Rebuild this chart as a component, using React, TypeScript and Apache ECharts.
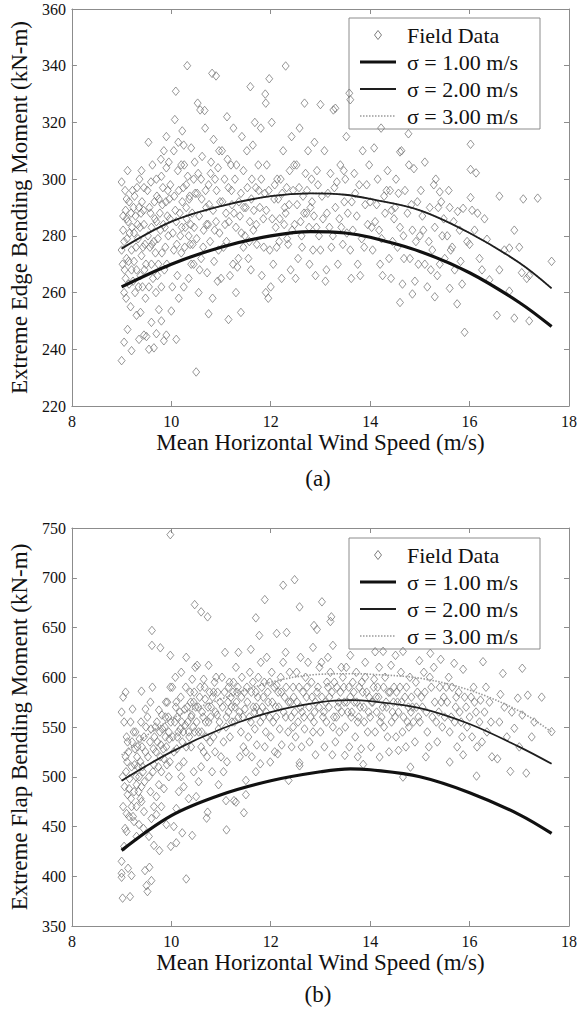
import React, { useEffect, useRef } from "react";
import * as echarts from "echarts";

// ---------- Data ----------
const X_MIN = 8;
const X_MAX = 18;
const X_INTERVAL = 2;
const EDGE_Y = { min: 220, max: 360, interval: 20 };
const FLAP_Y = { min: 350, max: 750, interval: 50 };

const LEGEND_NAMES = ["Field Data", "σ = 1.00 m/s", "σ = 2.00 m/s", "σ = 3.00 m/s"];
const PANEL_LABELS = ["(a)", "(b)"];
const X_TITLE = "Mean Horizontal Wind Speed (m/s)";
const EDGE_Y_TITLE = "Extreme Edge Bending Moment (kN-m)";
const FLAP_Y_TITLE = "Extreme Flap Bending Moment (kN-m)";

// Panel (a) field data: [wind speed, edge moment]
const EDGE_FIELD: number[][] = [
  [9.0,299],[9.05,278],[9.1,286],[9.02,270],[9.08,265],[9.12,303],[9.15,292],[9.2,275],[9.25,281],[9.3,268],[9.35,290],[9.4,273],[9.45,284],[9.0,236],[9.05,242.5],[9.12,247],[9.2,239.5],[9.18,255],[9.3,252],[9.35,243.5],[9.42,262],[9.48,258],[9.05,260],[9.1,272],[9.22,296],[9.28,287],[9.33,279],[9.38,266],[9.45,297],[9.03,282],[9.15,263],[9.25,271],[9.4,303],[9.47,277],[9.1,293],[9.32,284],[9.2,268],[9.08,289],[9.38,253],[9.45,245],[9.0,275],[9.27,260],[9.44,289],[9.16,281],[9.36,300],[9.49,270],
  [9.5,244.5],[9.55,240],[9.6,249.5],[9.65,240.5],[9.7,245.5],[9.75,254],[9.8,250],[9.85,243],[9.9,245],[9.55,262],[9.6,270],[9.65,278],[9.7,285],[9.75,293],[9.8,301],[9.85,310],[9.9,315],[9.95,306],[9.52,296],[9.58,288],[9.62,305],[9.68,274],[9.72,266],[9.78,282],[9.82,291],[9.88,276],[9.92,287],[9.98,298],[9.54,313],[9.6,283],[9.66,292],[9.74,270],[9.8,262],[9.86,268],[9.94,280],[9.96,293],[9.57,276],[9.7,300],[9.84,284],[9.9,304],
  [10.0,253.5],[10.1,243.5],[10.07,321],[10.09,331],[10.32,340],[10.02,262],[10.05,275],[10.1,285],[10.15,296],[10.2,305],[10.25,312],[10.3,290],[10.35,280],[10.4,270],[10.45,300],[10.12,266],[10.18,280],[10.22,292],[10.28,283],[10.33,301],[10.38,277],[10.42,288],[10.48,295],[10.05,310],[10.15,258],[10.25,262],[10.35,265],[10.45,270],[10.22,317],[10.4,311],[10.3,298],[10.08,289],[10.2,274],[10.46,283],
  [10.5,232],[10.53,326.8],[10.58,324.4],[10.67,324.2],[10.82,337.3],[10.9,336.4],[10.75,252.5],[10.55,260],[10.6,272],[10.65,282],[10.7,290],[10.75,298],[10.8,306],[10.85,314],[10.9,285],[10.95,275],[10.52,295],[10.62,308],[10.72,267],[10.78,278],[10.88,300],[10.98,292],[10.56,287],[10.68,318],[10.83,258],[10.93,264],[10.6,300],[10.74,284],[10.86,271],[10.96,310],
  [11.15,250.5],[11.4,253],[11.0,265],[11.05,276],[11.1,288],[11.15,297],[11.2,305],[11.25,318],[11.3,283],[11.35,272],[11.4,295],[11.45,303],[11.02,310],[11.08,284],[11.18,266],[11.22,291],[11.28,300],[11.33,269],[11.38,287],[11.48,280],[11.12,322],[11.42,315],[11.3,260],[11.45,276],
  [11.59,332.6],[11.89,330],[11.9,326.8],[11.97,335.4],[11.5,290],[11.55,272],[11.6,268],[11.65,282],[11.7,297],[11.75,305],[11.8,318],[11.85,286],[11.9,260],[11.95,258],[11.52,310],[11.62,300],[11.72,277],[11.78,290],[11.88,295],[11.98,275],[11.68,320],[11.82,266],[11.58,285],[11.92,305],
  [12.3,339.9],[12.0,262],[12.05,270],[12.1,283],[12.15,293],[12.2,300],[12.25,310],[12.3,288],[12.35,277],[12.4,268],[12.45,296],[12.02,320],[12.12,276],[12.22,265],[12.28,290],[12.38,303],[12.48,284],[12.08,298],[12.18,286],[12.42,315],[12.33,279],
  [12.68,326.8],[13.0,326.3],[12.5,265],[12.55,272],[12.6,285],[12.65,294],[12.7,302],[12.75,310],[12.8,290],[12.85,275],[12.9,266],[12.95,298],[12.52,305],[12.62,280],[12.72,288],[12.82,300],[12.92,283],[12.58,318],[12.88,313],[12.78,270],
  [13.26,324.4],[13.3,325],[13.0,275],[13.05,286],[13.1,264],[13.15,295],[13.2,302],[13.25,280],[13.3,290],[13.35,270],[13.4,305],[13.45,277],[13.08,310],[13.18,283],[13.28,297],[13.38,286],[13.48,292],[13.12,268],
  [13.58,330.3],[13.6,328],[13.5,300],[13.55,288],[13.6,275],[13.65,282],[13.7,295],[13.75,270],[13.8,266],[13.85,310],[13.9,291],[13.95,284],[13.52,315],[13.68,302],[13.78,298],[13.88,276],[13.98,305],[13.62,265],
  [14.0,292],[14.05,275],[14.1,285],[14.15,300],[14.2,270],[14.25,266],[14.3,288],[14.35,303],[14.4,296],[14.45,278],[14.08,311],[14.18,282],[14.28,294],[14.38,272],[14.48,286],[14.22,318],[14.42,265],
  [14.6,309.6],[14.63,310],[14.77,316],[14.88,303.7],[14.6,256.5],[14.85,259.5],[14.5,290],[14.55,276],[14.6,283],[14.65,263],[14.7,296],[14.75,288],[14.8,272],[14.85,282],[14.9,264],[14.95,292],[14.52,300],[14.68,272],[14.78,305],[14.92,278],
  [15.1,306],[15.28,298],[15.4,295.5],[15.43,292],[15.3,258.5],[15.0,280],[15.05,287],[15.1,270],[15.15,262],[15.2,290],[15.25,275],[15.3,283],[15.35,266],[15.4,270],[15.45,280],[15.02,296],[15.18,278],[15.32,300],[15.48,286],
  [15.6,261.5],[15.75,256],[15.9,246],[15.76,288.6],[15.87,289.7],[15.5,272],[15.55,280],[15.6,290],[15.65,276],[15.7,268],[15.8,282],[15.85,263],[15.95,278],[15.58,296],[15.68,285],
  [16.02,312.3],[16.02,303.4],[16.13,302.2],[16.02,293.5],[16.05,289],[16.16,288],[16.35,278.8],[16.0,277],[16.2,272],[16.4,264.5],[16.1,282],[16.3,286],[16.25,268],
  [16.6,294],[17.08,293],[17.37,293.3],[16.8,275.7],[16.55,252],[16.9,251],[17.2,250],[16.8,260.5],[17.05,267],[17.65,271],[17.0,276],[17.15,265],[16.6,268],[16.7,275],[16.9,282],[17.2,266],
  // denser core
  [9.03,287],[9.07,296],[9.11,279],[9.14,271],[9.19,288],[9.23,264],[9.26,294],[9.29,276],[9.34,262],[9.37,283],[9.41,292],[9.46,268],[9.06,268],[9.13,285],[9.21,283],[9.31,297],[9.39,288],[9.43,276],[9.09,258],[9.24,290],
  [9.53,280],[9.56,290],[9.59,299],[9.63,265],[9.67,286],[9.71,294],[9.73,279],[9.77,288],[9.81,274],[9.83,297],[9.87,283],[9.91,270],[9.93,296],[9.97,286],[9.61,277],[9.69,260],[9.79,307],[9.89,292],
  [10.03,281],[10.06,294],[10.11,277],[10.13,303],[10.17,288],[10.21,283],[10.24,297],[10.27,276],[10.31,286],[10.36,293],[10.39,284],[10.43,277],[10.47,306],[10.14,313],[10.26,305],[10.37,294],
  [10.51,279],[10.54,302],[10.57,268],[10.61,293],[10.64,276],[10.69,296],[10.71,284],[10.76,291],[10.79,302],[10.84,289],[10.87,282],[10.91,296],[10.94,304],[10.97,281],
  [11.03,292],[11.07,300],[11.11,278],[11.16,285],[11.21,296],[11.26,288],[11.31,305],[11.36,292],[11.41,281],[11.46,290],[11.13,307],[11.24,270],
  [11.53,297],[11.57,278],[11.61,293],[11.66,289],[11.71,284],[11.76,296],[11.81,300],[11.86,276],[11.91,289],[11.96,296],[11.64,312],
  [12.03,286],[12.07,293],[12.13,300],[12.17,278],[12.23,295],[12.27,284],[12.32,297],[12.37,291],[12.43,282],[12.47,305],
  [12.53,291],[12.57,297],[12.63,276],[12.67,288],[12.73,296],[12.77,283],[12.83,292],[12.87,287],[12.93,303],[12.97,280],
  [13.03,294],[13.13,288],[13.22,276],[13.33,299],[13.42,283],[13.47,303],
  [13.53,281],[13.63,292],[13.73,287],[13.83,279],[13.93,298],
  [14.03,283],[14.13,291],[14.23,279],[14.33,296],[14.43,289],
  [14.57,295],[14.67,280],[14.83,291],[14.97,270],
  [15.07,282],[15.22,268],[15.37,290],
  [15.62,275],[15.82,271],
];

// Panel (b) field data: [wind speed, flap moment]
const FLAP_FIELD: number[][] = [
  [9.02,378],[9.17,379.5],[9.0,403],[9.0,399],[9.2,400.7],[9.0,415],[9.13,408],[9.47,405.7],[9.5,390.6],[9.05,430],[9.1,445],[9.15,460],[9.2,470],[9.25,485],[9.3,492],[9.35,500],[9.4,475],[9.45,465],[9.02,500],[9.08,520],[9.12,535],[9.18,555],[9.22,568],[9.28,545],[9.32,530],[9.38,515],[9.42,510],[9.48,525],[9.03,580],[9.08,585],[9.0,565],[9.05,555],[9.1,540],[9.15,488],[9.25,455],[9.3,440],[9.35,452],[9.4,490],[9.45,540],[9.48,568],[9.2,510],[9.3,470],[9.38,478],[9.12,482],[9.4,586],[9.27,528],[9.1,463],[9.44,448],
  [9.52,384.6],[9.56,409],[9.6,395.6],[9.61,647],[9.61,632],[9.78,629.6],[9.99,430],[9.76,425.8],[9.65,431],[9.55,440],[9.6,458],[9.65,470],[9.7,480],[9.75,492],[9.8,505],[9.85,518],[9.9,530],[9.95,545],[9.52,560],[9.58,575],[9.62,590],[9.68,550],[9.72,535],[9.78,520],[9.82,548],[9.88,560],[9.92,575],[9.98,590],[9.55,500],[9.65,512],[9.7,462],[9.8,470],[9.85,488],[9.9,452],[9.95,500],[9.58,485],[9.75,567],[9.88,540],[9.64,528],[9.97,515],
  [9.98,743.3],[9.98,622],[10.3,397.3],[10.42,441],[10.22,443.6],[10.1,433.6],[10.05,450],[10.1,468],[10.15,485],[10.2,500],[10.25,515],[10.3,530],[10.35,545],[10.4,560],[10.45,575],[10.02,590],[10.08,600],[10.12,560],[10.18,548],[10.22,535],[10.28,552],[10.32,570],[10.38,585],[10.42,598],[10.48,610],[10.05,525],[10.15,510],[10.25,490],[10.35,478],[10.45,505],[10.1,575],[10.3,620],[10.4,530],[10.2,605],[10.47,545],[10.12,540],
  [10.47,673],[10.6,665.7],[10.73,660.7],[10.71,458.4],[10.73,464.4],[10.5,480],[10.55,495],[10.6,510],[10.65,525],[10.7,540],[10.75,555],[10.8,570],[10.85,585],[10.9,600],[10.95,548],[10.52,612],[10.58,590],[10.62,565],[10.68,578],[10.72,520],[10.78,535],[10.82,505],[10.88,525],[10.92,562],[10.98,575],[10.55,545],[10.65,598],[10.75,612],[10.85,540],[10.6,530],[10.95,492],
  [11.11,446.6],[11.46,463.8],[11.5,482],[11.3,474.5],[11.1,476],[11.26,476],[11.5,496.3],[11.0,520],[11.05,535],[11.1,550],[11.15,565],[11.2,580],[11.25,595],[11.3,610],[11.35,560],[11.4,545],[11.45,530],[11.02,600],[11.08,625],[11.12,515],[11.18,540],[11.22,555],[11.28,570],[11.32,585],[11.38,520],[11.42,600],[11.48,568],[11.15,590],[11.35,625],[11.05,505],
  [11.7,659.7],[11.88,678],[11.77,642],[11.99,514.8],[11.79,513],[11.5,525],[11.55,540],[11.6,555],[11.65,570],[11.7,585],[11.75,600],[11.8,615],[11.85,560],[11.9,545],[11.95,575],[11.52,590],[11.58,605],[11.62,520],[11.68,548],[11.72,532],[11.78,565],[11.82,590],[11.88,530],[11.92,620],[11.98,595],[11.6,628],[11.7,505],[11.85,580],
  [12.25,692.5],[12.48,698],[12.12,644],[12.32,645],[12.36,496.3],[12.14,523],[12.0,540],[12.05,555],[12.1,570],[12.15,585],[12.2,600],[12.25,615],[12.3,560],[12.35,545],[12.4,575],[12.45,590],[12.02,605],[12.08,525],[12.18,548],[12.22,532],[12.28,580],[12.38,605],[12.42,530],[12.48,565],[12.12,592],[12.3,625],[12.45,550],
  [12.58,670.7],[12.87,652],[12.93,648],[13.03,675.8],[12.58,514],[12.58,511],[12.9,522],[12.5,540],[12.55,555],[12.6,570],[12.65,585],[12.7,600],[12.75,615],[12.8,560],[12.85,545],[12.9,575],[12.95,590],[12.52,605],[12.62,530],[12.68,548],[12.72,580],[12.78,535],[12.82,595],[12.88,565],[12.98,610],[12.6,620],[12.85,630],
  [13.22,660.7],[13.2,656],[13.24,522],[13.49,521.5],[13.0,545],[13.05,560],[13.1,575],[13.15,590],[13.2,605],[13.25,550],[13.3,535],[13.35,570],[13.4,585],[13.45,600],[13.02,615],[13.08,530],[13.12,555],[13.18,580],[13.28,595],[13.32,560],[13.38,545],[13.48,575],[13.15,620],[13.42,610],[13.25,632],
  [13.86,512.4],[13.5,550],[13.55,565],[13.6,580],[13.65,595],[13.7,540],[13.75,555],[13.8,570],[13.85,585],[13.9,600],[13.95,545],[13.52,610],[13.58,530],[13.62,560],[13.68,575],[13.72,605],[13.78,590],[13.82,528],[13.88,555],[13.98,580],[13.6,622],[13.9,615],[13.75,520],
  [14.1,625.6],[14.26,626],[14.19,519.8],[14.0,560],[14.05,575],[14.1,545],[14.15,590],[14.2,555],[14.25,570],[14.3,600],[14.35,540],[14.4,585],[14.45,565],[14.02,530],[14.08,598],[14.18,610],[14.28,550],[14.38,525],[14.48,590],[14.12,580],[14.32,575],[14.42,612],
  [14.51,622],[14.66,626],[14.57,526.5],[14.81,509.7],[14.66,499.7],[14.99,616.6],[14.5,560],[14.55,575],[14.6,590],[14.65,545],[14.7,580],[14.75,555],[14.8,600],[14.85,570],[14.9,535],[14.95,585],[14.52,540],[14.62,605],[14.72,530],[14.82,565],[14.92,595],[14.78,550],
  [15.21,624],[15.42,618],[15.0,555],[15.05,570],[15.1,585],[15.15,545],[15.2,600],[15.25,560],[15.3,575],[15.35,535],[15.4,590],[15.45,550],[15.08,605],[15.18,530],[15.28,610],[15.38,565],[15.48,580],[15.12,520],
  [15.6,514.8],[15.87,522],[15.78,585],[15.87,608],[15.69,614],[15.5,560],[15.55,575],[15.6,545],[15.65,590],[15.7,555],[15.75,530],[15.8,565],[15.85,540],[15.9,580],[15.95,550],[15.58,600],[15.72,570],
  [16.14,500.7],[16.27,615.6],[16.22,577],[16.0,560],[16.05,540],[16.1,575],[16.15,530],[16.2,555],[16.3,565],[16.35,545],[16.4,575],[16.45,520],[16.08,590],[16.25,535],
  [16.56,518],[16.82,505.4],[17.14,503.7],[16.67,603.8],[17.06,609],[16.97,579],[17.17,582],[17.65,545.3],[16.9,548.7],[17.06,562],[16.62,582.8],[16.6,555],[16.75,540],[16.85,565],[17.0,530],[17.3,555],[17.45,580],[16.7,570],[17.25,540],
  // denser core
  [9.03,470],[9.06,490],[9.09,505],[9.11,515],[9.14,525],[9.16,498],[9.19,478],[9.21,535],[9.24,545],[9.26,512],[9.29,500],[9.31,520],[9.34,485],[9.36,538],[9.39,555],[9.41,530],[9.43,505],[9.46,495],[9.49,550],[9.07,448],[9.23,460],[9.33,510],
  [9.53,520],[9.57,535],[9.59,548],[9.63,505],[9.66,540],[9.69,525],[9.71,555],[9.74,510],[9.77,545],[9.79,532],[9.81,562],[9.84,528],[9.87,550],[9.89,575],[9.91,512],[9.94,560],[9.96,538],[9.99,555],
  [10.03,540],[10.07,555],[10.09,570],[10.11,528],[10.14,545],[10.17,565],[10.19,580],[10.21,555],[10.24,545],[10.27,568],[10.29,590],[10.33,555],[10.36,540],[10.39,575],[10.41,562],[10.44,550],[10.46,585],[10.49,570],
  [10.51,555],[10.54,570],[10.57,580],[10.61,545],[10.64,560],[10.67,590],[10.69,555],[10.74,570],[10.77,585],[10.79,560],[10.83,580],[10.87,595],[10.89,565],[10.93,585],[10.97,555],
  [11.03,570],[11.07,585],[11.11,560],[11.14,575],[11.17,595],[11.21,570],[11.24,585],[11.27,555],[11.31,575],[11.34,590],[11.37,565],[11.41,580],[11.44,560],[11.47,585],
  [11.53,575],[11.57,560],[11.61,585],[11.64,595],[11.67,565],[11.71,570],[11.74,580],[11.79,555],[11.83,570],[11.87,595],[11.91,565],[11.94,585],[11.97,560],
  [12.03,575],[12.07,590],[12.11,560],[12.16,570],[12.21,585],[12.26,565],[12.31,590],[12.36,575],[12.41,560],[12.46,580],
  [12.53,575],[12.57,590],[12.63,565],[12.67,560],[12.73,590],[12.77,570],[12.83,580],[12.87,555],[12.93,585],[12.97,570],
  [13.03,580],[13.07,565],[13.13,595],[13.17,570],[13.23,585],[13.27,560],[13.33,590],[13.37,575],[13.43,565],[13.47,590],
  [13.53,575],[13.57,590],[13.63,565],[13.67,585],[13.73,575],[13.77,560],[13.83,595],[13.87,570],[13.93,585],[13.97,565],
  [14.03,575],[14.07,590],[14.13,565],[14.17,580],[14.23,560],[14.27,590],[14.33,570],[14.37,585],[14.43,555],[14.47,575],
  [14.53,585],[14.57,565],[14.63,575],[14.67,560],[14.73,590],[14.77,570],[14.83,580],[14.87,555],[14.93,570],[14.97,560],
  [15.03,580],[15.13,565],[15.23,590],[15.33,555],[15.43,575],
  [15.53,590],[15.63,560],[15.73,580],[15.83,555],[15.93,570],
  [16.03,580],[16.13,565],[16.33,590],[16.43,555],
];

// Model curves
const EDGE_CURVE_X = [9, 10, 11, 12, 12.8, 13.5, 14, 15, 16, 17, 17.65];
const EDGE_S1 = [262, 270, 276, 280, 281.5, 281, 279.5, 274.5, 267, 256.5, 248];
const EDGE_S2 = [275.5, 285, 290.5, 294, 295, 294.5, 293, 289, 281, 270.5, 261.5];
const EDGE_S3 = [275.5, 285, 290.5, 294, 295, 294.5, 293, 289, 281, 270.5, 261.5];

const FLAP_CURVE_X = [9, 10, 11, 12, 13, 13.6, 14, 15, 16, 17, 17.65];
const FLAP_S1 = [426, 461, 482, 496, 505, 508, 507, 500, 484, 462, 443];
const FLAP_S2 = [496, 525, 548, 565, 575, 577, 576, 569, 553, 530, 513];
const FLAP_S3 = [522, 558, 578, 595, 603, 603.5, 603, 599, 587, 566, 545];

// ---------- Styles ----------
const FONT = "'Liberation Serif', 'Times New Roman', serif";
const AXIS_COLOR = "#8c8c8c";
const TEXT_COLOR = "#111111";
const MARKER_COLOR = "#6e6e6e";
const W = 580;
const H = 1017;

const zip = (xs: number[], ys: number[]) => xs.map((x, i) => [x, ys[i]]);

const LINE_STYLES = [
  { color: "#111111", width: 3.2, type: "solid" as const },
  { color: "#1e1e1e", width: 1.8, type: "solid" as const },
  { color: "#9a9a9a", width: 1.6, type: [1.5, 1.5] as any },
];

function panelAxes(gridIndex: number, yr: { min: number; max: number; interval: number }, yTitle: string) {
  const tick = { show: true, inside: true, length: 5, lineStyle: { color: AXIS_COLOR, width: 1 } };
  const line = { show: true, lineStyle: { color: AXIS_COLOR, width: 1 } };
  const xAxes = [
    {
      type: "value", gridIndex, min: X_MIN, max: X_MAX, interval: X_INTERVAL, position: "bottom",
      axisLine: line, axisTick: tick, splitLine: { show: false },
      axisLabel: { show: true, margin: 7, fontFamily: FONT, fontSize: 16, color: TEXT_COLOR },
      name: X_TITLE, nameLocation: "middle", nameGap: 25,
      nameTextStyle: { fontFamily: FONT, fontSize: 23, color: TEXT_COLOR },
    },
    {
      type: "value", gridIndex, min: X_MIN, max: X_MAX, interval: X_INTERVAL, position: "top",
      axisLine: line, axisTick: tick, splitLine: { show: false }, axisLabel: { show: false },
    },
  ];
  const yAxes = [
    {
      type: "value", gridIndex, min: yr.min, max: yr.max, interval: yr.interval, position: "left",
      axisLine: line, axisTick: tick, splitLine: { show: false },
      axisLabel: { show: true, margin: 6, fontFamily: FONT, fontSize: 16, color: TEXT_COLOR },
      name: yTitle, nameLocation: "middle", nameGap: 34,
      nameTextStyle: { fontFamily: FONT, fontSize: 23, color: TEXT_COLOR },
    },
    {
      type: "value", gridIndex, min: yr.min, max: yr.max, interval: yr.interval, position: "right",
      axisLine: line, axisTick: tick, splitLine: { show: false }, axisLabel: { show: false },
    },
  ];
  return { xAxes, yAxes };
}

function panelSeries(axisBase: number, field: number[][], cx: number[], curves: number[][]) {
  const s: any[] = [
    {
      type: "scatter", name: LEGEND_NAMES[0], xAxisIndex: axisBase, yAxisIndex: axisBase,
      data: field, symbol: "diamond", symbolSize: [7, 8.5], z: 2,
      itemStyle: { color: "rgba(0,0,0,0)", borderColor: MARKER_COLOR, borderWidth: 0.9 },
      emphasis: { disabled: true },
    },
  ];
  [2, 1, 0].forEach((k) => {
    s.push({
      type: "line", name: LEGEND_NAMES[k + 1], xAxisIndex: axisBase, yAxisIndex: axisBase,
      data: zip(cx, curves[k]), smooth: 0.35, showSymbol: false, symbol: "none", z: 3 + (2 - k),
      lineStyle: LINE_STYLES[k], emphasis: { disabled: true },
    });
  });
  return s;
}

function legendGraphic(left: number, top: number) {
  const rowOffsets = [17, 44, 71, 98];
  const children: any[] = [
    {
      type: "rect", shape: { x: 0, y: 0, width: 191, height: 111 },
      style: { fill: "#ffffff", stroke: AXIS_COLOR, lineWidth: 1 },
    },
    {
      type: "polygon",
      shape: { points: [[29, rowOffsets[0] - 4.5], [32.5, rowOffsets[0]], [29, rowOffsets[0] + 4.5], [25.5, rowOffsets[0]]] },
      style: { fill: "none", stroke: MARKER_COLOR, lineWidth: 0.9 },
    },
  ];
  [0, 1, 2].forEach((k) => {
    const ls = LINE_STYLES[k];
    children.push({
      type: "line",
      shape: { x1: 11, y1: rowOffsets[k + 1], x2: 47, y2: rowOffsets[k + 1] },
      style: { stroke: ls.color, lineWidth: ls.width, lineDash: Array.isArray(ls.type) ? ls.type : null },
    });
  });
  LEGEND_NAMES.forEach((name, i) => {
    children.push({
      type: "text", x: 58, y: rowOffsets[i],
      style: { text: name, font: `22px ${FONT}`, fill: TEXT_COLOR, textAlign: "left", textVerticalAlign: "middle" },
    });
  });
  return { type: "group", x: left, y: top, z: 50, children };
}

export default function App() {
  const ref = useRef<HTMLDivElement>(null);
  useEffect(() => {
    if (!ref.current) return;
    const chart = echarts.init(ref.current, null, { renderer: "svg", width: W, height: H });
    const a = panelAxes(0, EDGE_Y, EDGE_Y_TITLE);
    const b = panelAxes(1, FLAP_Y, FLAP_Y_TITLE);
    const option: any = {
      animation: false,
      backgroundColor: "#ffffff",
      grid: [
        { left: 64, top: 9, width: 508, height: 397 },
        { left: 64, top: 528, width: 508, height: 398 },
      ],
      xAxis: [...a.xAxes, ...b.xAxes],
      yAxis: [...a.yAxes, ...b.yAxes],
      series: [
        ...panelSeries(0, EDGE_FIELD, EDGE_CURVE_X, [EDGE_S1, EDGE_S2, EDGE_S3]),
        ...panelSeries(2, FLAP_FIELD, FLAP_CURVE_X, [FLAP_S1, FLAP_S2, FLAP_S3]),
      ],
      graphic: [
        legendGraphic(349, 18),
        legendGraphic(349, 538),
        {
          type: "text", x: 318, y: 478,
          style: { text: PANEL_LABELS[0], font: `23px ${FONT}`, fill: TEXT_COLOR, textAlign: "center", textVerticalAlign: "middle" },
        },
        {
          type: "text", x: 318, y: 994,
          style: { text: PANEL_LABELS[1], font: `23px ${FONT}`, fill: TEXT_COLOR, textAlign: "center", textVerticalAlign: "middle" },
        },
      ],
    };
    chart.setOption(option);
    return () => chart.dispose();
  }, []);
  return (
    <div
      ref={ref}
      style={{ position: "absolute", left: 0, top: 0, width: W, height: H, background: "#fff" }}
    />
  );
}
